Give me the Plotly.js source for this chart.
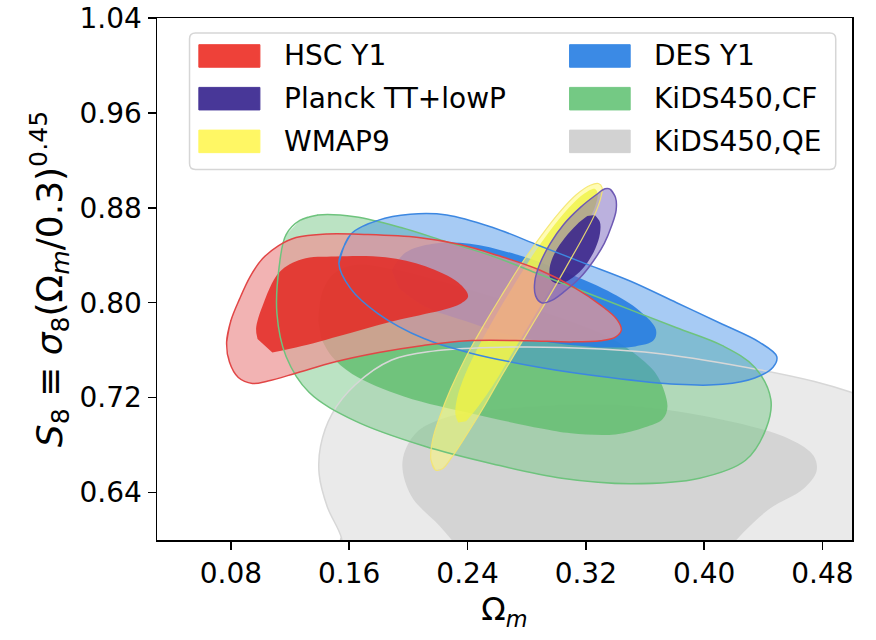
<!DOCTYPE html>
<html>
<head>
<meta charset="utf-8">
<script src="https://cdn.plot.ly/plotly-3.0.1.min.js"></script>
<style>html,body{margin:0;padding:0;background:#fff;}#chart{width:876px;height:640px;}</style>
</head>
<body>
<div id="chart"></div>
<script>
// ---- Contour boundaries (Omega_m, S8) ----
const kidsQeOuterX = [0.1560, 0.1546, 0.1452, 0.1397, 0.1406, 0.1484, 0.1639, 0.1887, 0.2167, 0.2571, 0.3037, 0.3658, 0.4280, 0.4746, 0.4994, 0.5300, 0.5600, 0.5700, 0.5700];
const kidsQeOuterY = [0.5850, 0.6023, 0.6279, 0.6551, 0.6792, 0.7064, 0.7306, 0.7517, 0.7592, 0.7623, 0.7623, 0.7577, 0.7457, 0.7336, 0.7245, 0.7100, 0.6800, 0.6200, 0.5850];
const kidsQeInnerX = [0.2360, 0.2210, 0.2020, 0.1960, 0.2050, 0.2250, 0.2680, 0.3390, 0.4100, 0.4580, 0.4740, 0.4760, 0.4670, 0.4450, 0.4270, 0.4150];
const kidsQeInnerY = [0.5900, 0.6120, 0.6370, 0.6660, 0.6900, 0.7030, 0.7110, 0.7140, 0.7020, 0.6850, 0.6710, 0.6580, 0.6430, 0.6270, 0.6070, 0.5900];

const kidsCfOuterX = [0.1266, 0.1390, 0.1639, 0.1950, 0.2260, 0.2571, 0.2882, 0.3192, 0.3503, 0.3814, 0.4124, 0.4342, 0.4451, 0.4420, 0.4280, 0.3969, 0.3503, 0.3037, 0.2571, 0.2105, 0.1639, 0.1328, 0.1173, 0.1111, 0.1126, 0.1173];
const kidsCfOuterY = [0.8694, 0.8740, 0.8725, 0.8634, 0.8513, 0.8392, 0.8242, 0.8091, 0.7940, 0.7789, 0.7638, 0.7457, 0.7185, 0.6943, 0.6672, 0.6521, 0.6475, 0.6521, 0.6641, 0.6792, 0.7004, 0.7245, 0.7547, 0.7909, 0.8302, 0.8574];
const kidsCfInnerX = [0.1390, 0.1420, 0.1500, 0.1650, 0.1900, 0.2300, 0.2700, 0.3100, 0.3400, 0.3600, 0.3690, 0.3752, 0.3720, 0.3600, 0.3400, 0.3100, 0.2900, 0.2450, 0.1970, 0.1620, 0.1480, 0.1410];
const kidsCfInnerY = [0.785, 0.810, 0.825, 0.832, 0.828, 0.815, 0.800, 0.784, 0.768, 0.750, 0.737, 0.7125, 0.702, 0.695, 0.689, 0.690, 0.694, 0.706, 0.721, 0.740, 0.755, 0.770];

const desOuterX = [0.1530, 0.1608, 0.1794, 0.2012, 0.2260, 0.2571, 0.2882, 0.3192, 0.3503, 0.3814, 0.4124, 0.4373, 0.4491, 0.4466, 0.4342, 0.4124, 0.3814, 0.3348, 0.2882, 0.2416, 0.2105, 0.1794, 0.1608];
const desOuterY = [0.8332, 0.8574, 0.8694, 0.8746, 0.8740, 0.8634, 0.8483, 0.8332, 0.8181, 0.8000, 0.7819, 0.7668, 0.7547, 0.7457, 0.7366, 0.7312, 0.7312, 0.7372, 0.7457, 0.7577, 0.7698, 0.7909, 0.8121];
const desInnerX = [0.1887, 0.1981, 0.2167, 0.2416, 0.2726, 0.3037, 0.3348, 0.3565, 0.3674, 0.3658, 0.3534, 0.3348, 0.3037, 0.2726, 0.2416, 0.2105, 0.1935];
const desInnerY = [0.8272, 0.8423, 0.8498, 0.8498, 0.8408, 0.8270, 0.8100, 0.7930, 0.7774, 0.7683, 0.7632, 0.7623, 0.7653, 0.7713, 0.7834, 0.7970, 0.8121];

const hscOuterX = [0.0771, 0.0800, 0.0858, 0.0930, 0.1013, 0.1120, 0.1240, 0.1450, 0.1700, 0.2068, 0.2350, 0.2600, 0.2880, 0.3120, 0.3300, 0.3410, 0.3440, 0.3400, 0.3300, 0.3100, 0.2800, 0.2400, 0.2100, 0.1800, 0.1500, 0.1250, 0.1050, 0.0945, 0.0850, 0.0790];
const hscOuterY = [0.767, 0.785, 0.803, 0.822, 0.837, 0.848, 0.855, 0.858, 0.8576, 0.855, 0.849, 0.840, 0.828, 0.813, 0.798, 0.786, 0.777, 0.771, 0.768, 0.767, 0.768, 0.768, 0.764, 0.758, 0.750, 0.741, 0.734, 0.732, 0.737, 0.750];
const hscInnerX = [0.0980, 0.0970, 0.1013, 0.1127, 0.1280, 0.1510, 0.1846, 0.2115, 0.2337, 0.2404, 0.2350, 0.2250, 0.1950, 0.1620, 0.1280, 0.1080];
const hscInnerY = [0.7694, 0.778, 0.797, 0.8257, 0.8367, 0.839, 0.8383, 0.8308, 0.817, 0.8055, 0.799, 0.7946, 0.786, 0.775, 0.7635, 0.758];

const wmapOuterX = [0.2182, 0.2152, 0.2165, 0.2215, 0.2285, 0.2380, 0.2495, 0.2625, 0.2760, 0.2895, 0.3020, 0.3135, 0.3230, 0.3285, 0.3310, 0.3300, 0.3255, 0.3180, 0.3085, 0.2975, 0.2855, 0.2735, 0.2615, 0.2500, 0.2390, 0.2295, 0.2230];
const wmapOuterY = [0.659, 0.668, 0.685, 0.705, 0.727, 0.752, 0.778, 0.805, 0.832, 0.856, 0.876, 0.891, 0.899, 0.9005, 0.897, 0.888, 0.873, 0.855, 0.834, 0.810, 0.785, 0.760, 0.735, 0.710, 0.688, 0.670, 0.660];
const wmapInnerX = [0.2337, 0.2318, 0.2330, 0.2385, 0.2470, 0.2580, 0.2700, 0.2830, 0.2960, 0.3085, 0.3190, 0.3260, 0.3280, 0.3265, 0.3215, 0.3140, 0.3045, 0.2935, 0.2815, 0.2700, 0.2585, 0.2475, 0.2390];
const wmapInnerY = [0.699, 0.706, 0.720, 0.740, 0.762, 0.787, 0.812, 0.838, 0.861, 0.880, 0.892, 0.896, 0.892, 0.882, 0.868, 0.851, 0.830, 0.806, 0.781, 0.757, 0.733, 0.713, 0.700];

const planckOuterX = [0.3366, 0.3400, 0.3405, 0.3375, 0.3325, 0.3250, 0.3160, 0.3060, 0.2970, 0.2900, 0.2860, 0.2855, 0.2890, 0.2960, 0.3050, 0.3160, 0.3270, 0.3330];
const planckOuterY = [0.8955, 0.8890, 0.8780, 0.8650, 0.8500, 0.8350, 0.8210, 0.8100, 0.8020, 0.8000, 0.8060, 0.8180, 0.8330, 0.8500, 0.8660, 0.8800, 0.8910, 0.8960];
const planckInnerX = [0.3260, 0.3295, 0.3295, 0.3265, 0.3200, 0.3110, 0.3020, 0.2965, 0.2955, 0.2990, 0.3060, 0.3140, 0.3210];
const planckInnerY = [0.8740, 0.8680, 0.8580, 0.8460, 0.8320, 0.8210, 0.8160, 0.8190, 0.8290, 0.8420, 0.8550, 0.8660, 0.8730];

// ---- Legend labels and axis ticks ----
const legendLabels = ["HSC Y1", "Planck TT+lowP", "WMAP9", "DES Y1", "KiDS450,CF", "KiDS450,QE"];
const legendColors = ["#ee4139", "#483798", "#fff764", "#3b8ae5", "#74c984", "#d2d2d2"];
const xTickVals = [0.08, 0.16, 0.24, 0.32, 0.40, 0.48];
const xTickText = ["0.08", "0.16", "0.24", "0.32", "0.40", "0.48"];
const yTickVals = [0.64, 0.72, 0.80, 0.88, 0.96, 1.04];
const yTickText = ["0.64", "0.72", "0.80", "0.88", "0.96", "1.04"];

const FONT = "DejaVu Sans";

function fillTrace(x, y, color) {
  return {type: "scatter", mode: "lines", x: x, y: y, fill: "toself", fillcolor: color,
    line: {width: 0, color: color, shape: "spline", smoothing: 1}, hoverinfo: "skip", showlegend: false};
}
function edgeTrace(x, y, color, w) {
  return {type: "scatter", mode: "lines", x: x.concat([x[0], x[1]]), y: y.concat([y[0], y[1]]),
    line: {width: w, color: color, shape: "spline", smoothing: 1}, hoverinfo: "skip", showlegend: false};
}

const traces = [
  fillTrace(kidsQeOuterX, kidsQeOuterY, "rgba(225,225,225,0.7)"),
  fillTrace(kidsQeInnerX, kidsQeInnerY, "rgba(200,200,200,0.65)"),
  fillTrace(kidsCfOuterX, kidsCfOuterY, "rgba(120,200,135,0.5)"),
  fillTrace(kidsCfInnerX, kidsCfInnerY, "rgba(105,192,118,0.9)"),
  fillTrace(desOuterX, desOuterY, "rgba(60,140,230,0.45)"),
  fillTrace(desInnerX, desInnerY, "rgba(40,125,225,0.9)"),
  fillTrace(wmapOuterX, wmapOuterY, "rgba(255,250,120,0.55)"),
  fillTrace(wmapInnerX, wmapInnerY, "rgba(240,242,70,0.8)"),
  fillTrace(hscOuterX, hscOuterY, "rgba(237,150,150,0.72)"),
  fillTrace(hscInnerX, hscInnerY, "rgba(228,40,34,0.85)"),
  fillTrace(planckOuterX, planckOuterY, "rgba(120,100,190,0.5)"),
  fillTrace(planckInnerX, planckInnerY, "rgba(60,40,140,0.9)"),
  edgeTrace(kidsQeOuterX, kidsQeOuterY, "rgba(215,215,215,1)", 1.5),
  edgeTrace(kidsCfOuterX, kidsCfOuterY, "rgba(110,195,125,1)", 1.5),
  edgeTrace(desOuterX, desOuterY, "rgba(60,135,225,1)", 1.5),
  edgeTrace(wmapOuterX, wmapOuterY, "rgba(245,230,110,0.9)", 1.2),
  edgeTrace(hscOuterX, hscOuterY, "rgba(225,70,70,1)", 1.5),
  edgeTrace(planckOuterX, planckOuterY, "rgba(110,90,180,1)", 1.5)
];

// ---- Manual legend (matplotlib style, 2 columns) ----
const shapes = [];
const annotations = [];
const bx0 = 0.052, bx1 = 0.489, by0 = 0.9123, by1 = 1.0273, rx = 0.004, ry = 0.005;
shapes.push({type: "path", xref: "x", yref: "y", layer: "above",
  path: `M ${bx0+rx},${by0} L ${bx1-rx},${by0} Q ${bx1},${by0} ${bx1},${by0+ry} L ${bx1},${by1-ry} Q ${bx1},${by1} ${bx1-rx},${by1} L ${bx0+rx},${by1} Q ${bx0},${by1} ${bx0},${by1-ry} L ${bx0},${by0+ry} Q ${bx0},${by0} ${bx0+rx},${by0} Z`,
  fillcolor: "rgba(255,255,255,0.8)", line: {color: "#d6d6d6", width: 1.5}});
const colX = [[0.0583, 0.0996, 0.1148], [0.309, 0.350, 0.365]];
const rowY = [1.008, 0.972, 0.936];
legendLabels.forEach((lab, i) => {
  const c = Math.floor(i / 3), r = i % 3;
  shapes.push({type: "rect", xref: "x", yref: "y", layer: "above",
    x0: colX[c][0], x1: colX[c][1], y0: rowY[r] - 0.0095, y1: rowY[r] + 0.0095,
    fillcolor: legendColors[i], line: {color: legendColors[i], width: 1}});
  annotations.push({xref: "x", yref: "y", x: colX[c][2], y: rowY[r], text: lab, showarrow: false,
    xanchor: "left", yanchor: "middle", font: {family: FONT, size: 28, color: "#000"}});
});

const layout = {
  width: 876, height: 640,
  margin: {l: 157, r: 24, t: 18, b: 100},
  paper_bgcolor: "#fff", plot_bgcolor: "#fff",
  showlegend: false,
  font: {family: FONT, color: "#000"},
  xaxis: {range: [0.03, 0.50], tickvals: xTickVals, ticktext: xTickText, ticks: "outside", ticklen: 8, tickwidth: 1.5,
    tickcolor: "#000", showline: true, linecolor: "#000", linewidth: 1.5, mirror: true, showgrid: false, zeroline: false,
    tickfont: {family: FONT, size: 28, color: "#000"},
    title: {text: "Ω<sub><i>m</i></sub>", font: {family: FONT, size: 32, color: "#000"}, standoff: 8}},
  yaxis: {range: [0.60, 1.04], tickvals: yTickVals, ticktext: yTickText, ticks: "outside", ticklen: 8, tickwidth: 1.5,
    tickcolor: "#000", showline: true, linecolor: "#000", linewidth: 1.5, mirror: true, showgrid: false, zeroline: false,
    tickfont: {family: FONT, size: 28, color: "#000"},
    title: {text: "<i>S</i><sub>8</sub> ≡ <i>σ</i><sub>8</sub>(Ω<sub><i>m</i></sub>/0.3)<sup>0.45</sup>", font: {family: FONT, size: 36, color: "#000"}, standoff: 6}},
  shapes: shapes,
  annotations: annotations
};

Plotly.newPlot("chart", traces, layout, {staticPlot: true, displayModeBar: false});
</script>
</body>
</html>
